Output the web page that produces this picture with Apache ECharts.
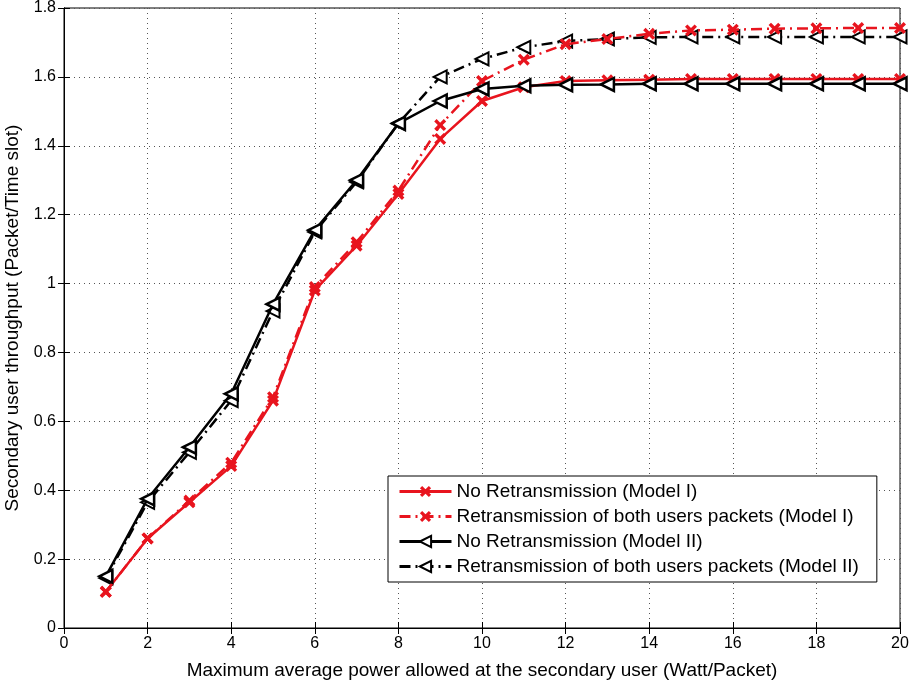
<!DOCTYPE html>
<html>
<head>
<meta charset="utf-8">
<script src="https://cdn.jsdelivr.net/npm/echarts@6/dist/echarts.min.js"></script>
<style>
html, body { margin: 0; padding: 0; background: #fff; }
#main { width: 911px; height: 682px; }
</style>
</head>
<body>
<div id="main"></div>
<script>
// x values (Watt/Packet)
var powers = [1, 2, 3, 4, 5, 6, 7, 8, 9, 10, 11, 12, 13, 14, 15, 16, 17, 18, 19, 20];
var noRetxModel1 = [0.105, 0.26, 0.365, 0.47, 0.66, 0.98, 1.11, 1.26, 1.42, 1.53, 1.57, 1.588, 1.59, 1.592, 1.594, 1.594, 1.594, 1.594, 1.594, 1.594];
var retxModel1 = [0.105, 0.26, 0.37, 0.48, 0.67, 0.99, 1.12, 1.27, 1.46, 1.588, 1.65, 1.695, 1.71, 1.725, 1.735, 1.737, 1.74, 1.741, 1.742, 1.742];
var noRetxModel2 = [0.15, 0.375, 0.525, 0.68, 0.94, 1.155, 1.30, 1.465, 1.53, 1.565, 1.574, 1.577, 1.578, 1.58, 1.58, 1.58, 1.58, 1.58, 1.58, 1.58];
var retxModel2 = [0.145, 0.365, 0.51, 0.66, 0.92, 1.15, 1.295, 1.465, 1.60, 1.652, 1.686, 1.704, 1.71, 1.715, 1.716, 1.716, 1.716, 1.716, 1.716, 1.716];
var seriesNames = [
    'No Retransmission (Model I)',
    'Retransmission of both users packets (Model I)',
    'No Retransmission (Model II)',
    'Retransmission of both users packets (Model II)'
];

var crossSymbol = 'path://M2,0L5,3L8,0L10,2L7,5L10,8L8,10L5,7L2,10L0,8L3,5L0,2Z';
var dashDot = [11, 5, 2, 5];
var font = 'Liberation Sans, Arial, sans-serif';

function pairs(ys) {
    var out = [];
    for (var i = 0; i < powers.length; i++) {
        out.push([powers[i], ys[i]]);
    }
    return out;
}

var chart = echarts.init(document.getElementById('main'));
var option = {
    animation: false,
    grid: { left: 64, right: 11, top: 8, bottom: 54, outerBoundsMode: 'none',
        show: true, borderColor: '#000', borderWidth: 1 },
    legend: {
        orient: 'vertical',
        left: 388,
        top: 476,
        padding: [6, 18, 6, 10],
        itemGap: 6,
        itemWidth: 52,
        itemHeight: 14,
        backgroundColor: '#fff',
        borderColor: '#000',
        borderWidth: 1,
        lineStyle: { width: 3 },
        textStyle: { fontFamily: font, fontSize: 19, color: '#000' },
        data: seriesNames
    },
    xAxis: [{
        type: 'value',
        min: 0, max: 20, interval: 2,
        name: 'Maximum average power allowed at the secondary user (Watt/Packet)',
        nameLocation: 'middle',
        nameGap: 33,
        nameTextStyle: { fontFamily: font, fontSize: 19, color: '#000' },
        axisLine: { lineStyle: { color: '#000' } },
        axisTick: { inside: true, length: 6, lineStyle: { color: '#000' } },
        axisLabel: { fontFamily: font, fontSize: 16, color: '#000', margin: 8 },
        splitLine: { show: true, lineStyle: { color: '#555', type: [1, 4] } }
    }, {
        type: 'value',
        position: 'top',
        min: 0, max: 20, interval: 2,
        axisLine: { lineStyle: { color: '#000' } },
        axisTick: { inside: true, length: 6, lineStyle: { color: '#000' } },
        axisLabel: { show: false },
        splitLine: { show: false }
    }],
    yAxis: [{
        type: 'value',
        min: 0, max: 1.8, interval: 0.2,
        name: 'Secondary user throughput (Packet/Time slot)',
        nameLocation: 'middle',
        nameGap: 42,
        nameTextStyle: { fontFamily: font, fontSize: 19, color: '#000' },
        axisLine: { show: true, lineStyle: { color: '#000' } },
        axisTick: { show: true, inside: true, length: 6, lineStyle: { color: '#000' } },
        axisLabel: { fontFamily: font, fontSize: 16, color: '#000', margin: 8,
            formatter: function (v) { return Math.round(v * 10) / 10 + ''; } },
        splitLine: { show: true, lineStyle: { color: '#555', type: [1, 4] } }
    }, {
        type: 'value',
        position: 'right',
        min: 0, max: 1.8, interval: 0.2,
        axisLine: { show: true, lineStyle: { color: '#000' } },
        axisTick: { show: true, inside: true, length: 6, lineStyle: { color: '#000' } },
        axisLabel: { show: false },
        splitLine: { show: false }
    }],
    series: [{
        name: seriesNames[0],
        type: 'line',
        data: pairs(noRetxModel1),
        symbol: crossSymbol,
        symbolSize: 12,
        lineStyle: { color: '#e8141e', width: 2.5 },
        itemStyle: { color: '#e8141e' },
        z: 3
    }, {
        name: seriesNames[1],
        type: 'line',
        data: pairs(retxModel1),
        symbol: crossSymbol,
        symbolSize: 12,
        lineStyle: { color: '#e8141e', width: 2.5, type: dashDot },
        itemStyle: { color: '#e8141e' },
        z: 2
    }, {
        name: seriesNames[2],
        type: 'line',
        data: pairs(noRetxModel2),
        symbol: 'triangle',
        symbolRotate: 90,
        symbolSize: 13,
        lineStyle: { color: '#000', width: 2.5 },
        itemStyle: { color: '#fff', borderColor: '#000', borderWidth: 2.5 },
        z: 4
    }, {
        name: seriesNames[3],
        type: 'line',
        data: pairs(retxModel2),
        symbol: 'triangle',
        symbolRotate: 90,
        symbolSize: 13,
        lineStyle: { color: '#000', width: 2.5, type: dashDot },
        itemStyle: { color: '#fff', borderColor: '#000', borderWidth: 2 },
        z: 1
    }]
};
chart.setOption(option);
</script>
</body>
</html>
